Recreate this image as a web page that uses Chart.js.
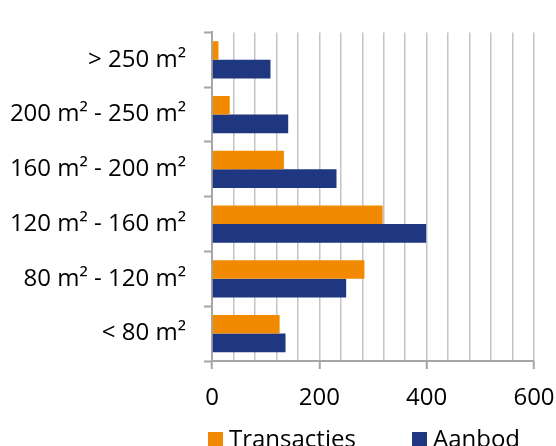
<!DOCTYPE html>
<html>
<head>
<meta charset="utf-8">
<script src="https://cdn.jsdelivr.net/npm/chart.js@4/dist/chart.umd.min.js"></script>
<style>
  html, body { margin: 0; padding: 0; background: #fff; overflow: hidden; }
  #wrap { position: relative; width: 556px; height: 446px; }
  #legend { position: absolute; top: 426px; left: 0; width: 556px; height: 24px;
            font-family: 'Open Sans', sans-serif; font-size: 24px; line-height: 24px; color: #000; }
  .item { position: absolute; top: 0; white-space: nowrap; }
  .box { display: inline-block; width: 15px; height: 15px; margin-right: 6px; vertical-align: baseline; }
</style>
</head>
<body>
<div id="wrap">
  <canvas id="chart" width="556" height="446"></canvas>
  <div id="legend"></div>
</div>
<script>
// Floor-area classes, listed top to bottom
const categories = ['> 250 m²', '200 m² - 250 m²', '160 m² - 200 m²', '120 m² - 160 m²', '80 m² - 120 m²', '< 80 m²'];
const transacties = [12, 33, 134, 318, 284, 126];
const aanbod = [109, 142, 232, 399, 250, 137];
const xTickLabels = [0, 200, 400, 600];

const seriesNames = ['Transacties', 'Aanbod'];
const seriesColors = ['#F18A00', '#1F3680'];

const FONT = { family: "'Open Sans', sans-serif", size: 24 };
const GRID = '#c4c4c4';
const AXIS = '#a6a6a6';

new Chart(document.getElementById('chart'), {
  type: 'bar',
  data: {
    labels: categories,
    datasets: [
      { label: seriesNames[0], data: transacties, backgroundColor: seriesColors[0] },
      { label: seriesNames[1], data: aanbod, backgroundColor: seriesColors[1] }
    ]
  },
  options: {
    indexAxis: 'y',
    responsive: false,
    animation: false,
    layout: { padding: { top: 21, right: 22, bottom: 0, left: 0 } },
    datasets: { bar: { categoryPercentage: 0.68, barPercentage: 1.0 } },
    plugins: { legend: { display: false }, tooltip: { enabled: false } },
    scales: {
      x: {
        min: 0,
        max: 600,
        afterFit: (s) => { s.height = 85; s.paddingLeft = 0; s.paddingRight = 0; },
        ticks: {
          stepSize: 40,
          autoSkip: false,
          maxRotation: 0,
          padding: 15,
          color: '#000',
          font: FONT,
          callback: (v) => xTickLabels.includes(v) ? String(v) : ''
        },
        grid: {
          color: (ctx) => ctx.tick && ctx.tick.value === 0 ? AXIS : GRID,
          lineWidth: 1.5,
          tickLength: 8,
          tickColor: (ctx) => ctx.tick && xTickLabels.includes(ctx.tick.value) ? AXIS : 'rgba(0,0,0,0)',
          tickWidth: 2
        },
        border: { color: AXIS, width: 2 }
      },
      y: {
        afterFit: (s) => { s.width = 212; },
        ticks: { padding: 18, color: '#000', font: FONT },
        grid: {
          drawOnChartArea: false,
          tickLength: 8,
          tickColor: AXIS,
          tickWidth: 2
        },
        border: { color: AXIS, width: 2 }
      }
    }
  }
});

// Legend below the axis
const legend = document.getElementById('legend');
const legendLeft = [208, 412];
seriesNames.forEach((name, i) => {
  const item = document.createElement('span');
  item.className = 'item';
  item.style.left = legendLeft[i] + 'px';
  const box = document.createElement('span');
  box.className = 'box';
  box.style.background = seriesColors[i];
  item.appendChild(box);
  item.appendChild(document.createTextNode(name));
  legend.appendChild(item);
});
</script>
</body>
</html>
